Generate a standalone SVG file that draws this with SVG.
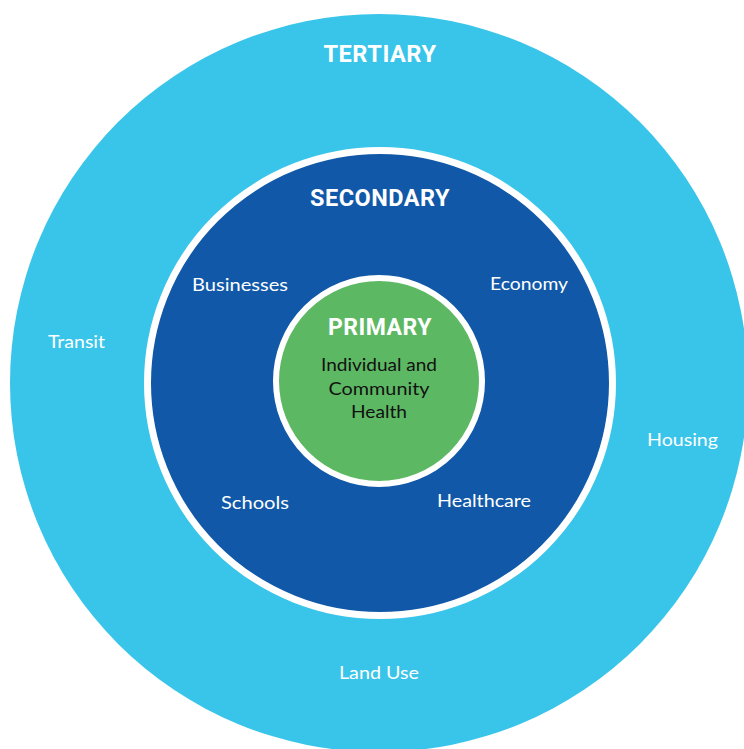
<svg xmlns="http://www.w3.org/2000/svg" width="744" height="749" viewBox="0 0 744 749">
  <style>
    .title { font-family: Roboto, "Liberation Sans", sans-serif; font-weight: 700; font-size: 24px; fill: #ffffff; text-anchor: middle; letter-spacing: 0.5px; }
    .label { font-family: Lato, "Liberation Sans", sans-serif; font-size: 17px; fill: #ffffff; text-anchor: middle; }
    .dark { font-family: Lato, "Liberation Sans", sans-serif; font-size: 17px; fill: #111111; text-anchor: middle; }
  </style>
  <rect width="744" height="749" fill="#ffffff"/>
  <g id="tertiary">
    <circle cx="379" cy="383" r="369" fill="#39C5EA"/>
    <text class="title" x="380" y="62" textLength="113" lengthAdjust="spacingAndGlyphs">TERTIARY</text>
    <text class="label" x="76.5" y="348" textLength="57" lengthAdjust="spacingAndGlyphs">Transit</text>
    <text class="label" x="682.5" y="446" textLength="71" lengthAdjust="spacingAndGlyphs">Housing</text>
    <text class="label" x="379" y="679" textLength="80" lengthAdjust="spacingAndGlyphs">Land Use</text>
  </g>
  <g id="secondary">
    <circle cx="380" cy="383" r="232.5" fill="#1159A8" stroke="#ffffff" stroke-width="7"/>
    <text class="title" x="380" y="206" textLength="140" lengthAdjust="spacingAndGlyphs">SECONDARY</text>
    <text class="label" x="240" y="291" textLength="96" lengthAdjust="spacingAndGlyphs">Businesses</text>
    <text class="label" x="529" y="290" textLength="78" lengthAdjust="spacingAndGlyphs">Economy</text>
    <text class="label" x="255" y="509" textLength="68" lengthAdjust="spacingAndGlyphs">Schools</text>
    <text class="label" x="484" y="507" textLength="94" lengthAdjust="spacingAndGlyphs">Healthcare</text>
  </g>
  <g id="primary">
    <circle cx="379" cy="381" r="103" fill="#5DB863" stroke="#ffffff" stroke-width="6"/>
    <text class="title" x="380" y="335" textLength="104" lengthAdjust="spacingAndGlyphs">PRIMARY</text>
    <text class="dark" x="379" y="371" textLength="116" lengthAdjust="spacingAndGlyphs">Individual and</text>
    <text class="dark" x="379" y="395" textLength="101" lengthAdjust="spacingAndGlyphs">Community</text>
    <text class="dark" x="379" y="418" textLength="56" lengthAdjust="spacingAndGlyphs">Health</text>
  </g>
  <g id="connectors"/>
</svg>
